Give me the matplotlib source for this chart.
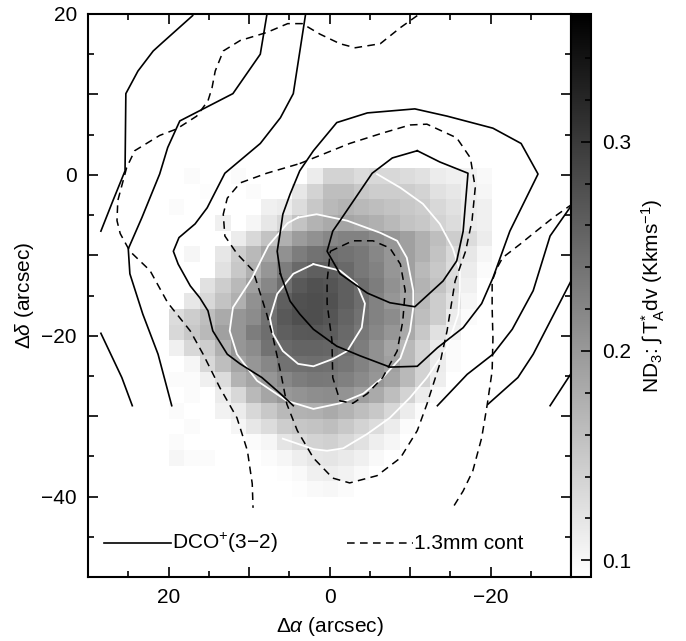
import numpy as np
import matplotlib
matplotlib.use('Agg')
import matplotlib.pyplot as plt
from matplotlib.ticker import MultipleLocator, FuncFormatter

plt.rcParams['font.family'] = ['Liberation Sans', 'DejaVu Sans']
plt.rcParams['mathtext.fontset'] = 'custom'
plt.rcParams['mathtext.rm'] = 'Liberation Sans'
plt.rcParams['mathtext.it'] = 'Liberation Sans:italic'
plt.rcParams['mathtext.sf'] = 'Liberation Sans'

n = np.nan

# ND3 integrated intensity (K km/s), rows from north (top) to south, columns east to west
nd3_map = np.array([
    [n, .097, n, n, .097, n, n, n, n, .113, .139, .139, .129, .134, .134, .129, .124, .113, .108, .106, .099],
    [n, n, .095, n, n, .097, n, n, .118, .139, .161, .161, .150, .145, .145, .145, .139, .124, .118, .108, .102],
    [.097, n, n, n, n, n, .108, .113, .129, .150, .166, .171, .166, .161, .155, .150, .145, .134, .124, .113, .108],
    [n, n, n, .108, n, .102, .118, .134, .155, .171, .182, .187, .182, .176, .166, .155, .150, .139, .129, .113, .108],
    [n, n, n, n, .113, .134, .155, .176, .197, .208, .219, .224, .224, .213, .203, .192, .176, .161, .145, .129, .113],
    [n, .102, n, .118, .145, .166, .187, .208, .229, .240, .245, .240, .234, .219, .203, .192, .176, .155, .134, .118, .102],
    [n, n, n, .124, .150, .176, .203, .229, .250, .261, .261, .250, .234, .224, .203, .192, .166, .150, .129, .113, .097],
    [n, n, .124, .145, .166, .192, .219, .245, .266, .274, .271, .261, .245, .229, .208, .192, .171, .155, .134, .108, n],
    [n, .118, .134, .155, .176, .208, .234, .261, .274, .279, .274, .261, .245, .224, .203, .187, .166, .145, .124, .102, n],
    [.129, .145, .161, .182, .203, .213, .240, .266, .277, .279, .271, .255, .240, .224, .213, .187, .161, .145, .113, .097, n],
    [.134, .150, .166, .192, .203, .229, .245, .261, .266, .268, .264, .250, .234, .219, .203, .182, .150, .124, .108, n, n],
    [.108, .134, .145, .176, .203, .213, .240, .250, .255, .255, .253, .245, .229, .208, .187, .166, .139, .113, .097, n, n],
    [n, .102, .134, .161, .187, .203, .219, .240, .243, .245, .243, .237, .224, .208, .192, .166, .139, .113, .097, n, n],
    [.097, .097, .108, .129, .171, .187, .203, .219, .229, .234, .232, .226, .215, .203, .187, .166, .139, .110, n, n, n],
    [n, .097, n, .113, .134, .166, .187, .201, .205, .211, .213, .205, .194, .182, .161, .139, .113, .097, n, n, n],
    [.097, n, n, .106, .113, .134, .150, .166, .173, .176, .182, .171, .161, .150, .134, .113, .097, n, n, n, n],
    [n, .097, n, n, .102, .118, .129, .145, .152, .155, .161, .150, .139, .129, .113, .097, n, n, n, n, n],
    [.097, n, n, n, n, .097, .102, .120, .129, .139, .142, .134, .124, .110, .102, n, n, n, n, n, n],
    [.102, .097, .097, n, n, n, .097, .102, .110, .118, .120, .115, .108, .099, n, n, n, n, n, n, n],
    [n, n, n, n, n, n, n, .095, .099, .108, .110, .106, .099, n, n, n, n, n, n, n, n],
    [n, n, n, n, n, n, n, n, .095, .099, .101, .097, n, n, n, n, n, n, n, n, n],
])
nd3_extent = (20.0, -20.0, -40.0, 0.9)
nd3_range = (0.092, 0.361)

# DCO+(3-2) contours, (ra offset, dec offset) in arcsec
dco_contours = [
    [(17.0, 19.8), (20.8, 16.4), (21.9, 15.4), (23.8, 12.9), (25.3, 10.1), (25.4, 0.5),
     (26.9, -3.2), (28.4, -7.0)],
    [(28.4, -19.7), (25.8, -25.2), (24.5, -28.7)],
    [(7.8, 19.8), (8.6, 15.0), (12.0, 10.1), (18.6, 6.7), (20.1, 3.4), (21.1, 0.1),
     (23.3, -5.3), (25.0, -9.2), (24.8, -12.3), (23.2, -17.3), (21.3, -22.3), (19.6, -28.7)],
    [(3.0, 19.8), (4.5, 10.1), (6.1, 7.1), (8.6, 3.9), (13.0, 0.2), (15.2, -4.1),
     (16.7, -6.1), (18.7, -7.8), (19.4, -9.5), (18.8, -11.1), (17.3, -13.8), (16.1, -15.3),
     (15.1, -16.9), (14.5, -19.4), (12.7, -22.3), (11.1, -23.5), (8.4, -25.2), (6.1, -27.2),
     (4.5, -28.7)],
    [(6.1, -12.3), (6.5, -9.5), (6.1, -7.0), (5.8, -4.9), (4.9, -2.4), (3.7, 0.5),
     (2.0, 3.0), (-0.9, 6.5), (-4.7, 7.7), (-10.6, 8.2), (-14.6, 7.3), (-20.3, 5.8),
     (-23.8, 3.9), (-25.9, 0.1), (-22.4, -7.0), (-20.3, -12.8), (-18.9, -16.0),
     (-16.6, -19.0), (-13.4, -21.5), (-10.9, -23.8), (-7.5, -23.9), (-3.8, -22.5),
     (-0.9, -21.3), (2.0, -19.2), (3.7, -17.3), (4.9, -15.7), (6.1, -12.3)],
    [(-10.9, 3.0), (-7.8, 2.1), (-5.3, 0.2), (-1.3, -5.7), (-0.4, -7.0), (0.3, -9.5),
     (-1.3, -12.3), (-4.7, -14.7), (-7.5, -15.9), (-10.6, -16.4), (-14.1, -13.2),
     (-15.8, -10.7), (-16.6, -7.0), (-17.2, 0.2), (-13.7, 1.6), (-10.9, 3.0)],
    [(-13.4, -28.7), (-17.1, -24.8), (-20.3, -22.3), (-22.7, -19.2), (-25.3, -14.4),
     (-27.4, -7.6), (-30.2, -3.6)],
    [(-30.2, -12.8), (-25.3, -22.3), (-23.4, -25.2), (-19.7, -28.5)],
    [(-30.2, -24.4), (-27.4, -28.7)],
]

# 1.3 mm continuum contours
cont_contours = [
    [(-10.9, 19.8), (-8.8, 18.3), (-6.3, 16.3), (-3.2, 15.8), (-1.3, 16.3), (1.2, 17.5),
     (3.4, 18.8), (5.2, 18.8), (7.8, 17.7), (11.1, 16.7), (13.2, 15.4), (14.2, 12.9),
     (14.6, 10.8), (15.1, 9.2), (16.5, 7.3), (19.0, 5.7), (21.1, 4.9), (24.2, 3.0),
     (25.2, 0.9), (26.3, -3.2), (26.4, -5.7), (26.0, -7.3), (24.8, -9.5), (22.3, -11.9),
     (20.1, -15.9), (17.3, -19.4), (15.7, -22.3), (13.6, -26.5), (11.5, -30.2),
     (10.2, -34.3), (9.6, -38.4), (9.5, -41.4)],
    [(3.7, 1.4), (-2.5, 3.9), (-6.6, 5.2), (-10.0, 6.2), (-12.1, 6.3), (-15.8, 4.6),
     (-17.5, 2.1), (-18.1, -1.6), (-17.7, -5.7), (-16.9, -9.5), (-15.6, -13.2),
     (-14.6, -19.4), (-13.7, -23.5), (-12.1, -28.5), (-10.9, -31.8), (-8.8, -35.2),
     (-5.9, -37.4), (-2.5, -38.3), (-0.4, -37.7), (2.0, -35.2), (4.0, -31.8), (5.3, -28.5),
     (6.1, -24.4), (7.0, -20.3), (7.8, -17.3), (9.5, -11.9), (11.5, -9.8), (13.0, -7.6),
     (13.2, -4.9), (12.7, -2.9), (11.1, -1.0), (7.8, 0.2), (3.7, 1.4)],
    [(-0.1, -9.5), (-2.9, -8.2), (-5.4, -8.2), (-7.5, -9.1), (-8.8, -11.1), (-9.4, -14.4),
     (-9.1, -18.2), (-8.4, -21.9), (-6.6, -25.2), (-4.7, -27.2), (-2.9, -28.4),
     (-1.3, -28.1), (-0.4, -25.2), (-0.3, -20.6), (0.3, -16.0), (0.3, -13.2), (-0.1, -9.5)],
    [(-30.2, -3.6), (-27.8, -5.3), (-25.3, -7.3), (-23.7, -8.6), (-21.5, -10.3),
     (-20.8, -11.6), (-20.2, -13.2), (-20.2, -16.5), (-20.3, -20.3), (-20.2, -24.4),
     (-19.6, -28.5), (-18.9, -32.7), (-17.8, -36.8), (-16.6, -39.3), (-15.3, -41.4)],
]

# ND3 contours (white)
nd3_contours = [
    [(2.0, -11.1), (-1.3, -11.9), (-3.4, -13.6), (-4.4, -16.0), (-4.0, -19.0), (-2.2, -21.9),
     (-0.4, -22.9), (2.0, -23.8), (3.9, -23.5), (5.8, -21.9), (7.0, -19.8), (7.4, -17.8),
     (6.5, -14.8), (4.5, -12.3), (2.0, -11.1)],
    [(3.9, -5.3), (1.6, -4.9), (-2.2, -5.7), (-6.3, -7.2), (-8.4, -8.2), (-9.6, -10.3),
     (-10.4, -14.4), (-10.4, -16.5), (-10.0, -19.4), (-8.8, -22.8), (-6.6, -25.2),
     (-4.2, -27.2), (-1.3, -28.4), (2.0, -29.1), (5.3, -28.1), (9.0, -25.6), (11.5, -22.3),
     (12.4, -19.4), (12.0, -16.5), (9.6, -12.8), (7.6, -8.8), (5.2, -6.0), (3.9, -5.3)],
    [(-5.9, 0.1), (-8.8, -1.6), (-11.6, -3.6), (-13.7, -6.1), (-15.3, -9.1), (-16.2, -11.9),
     (-16.2, -14.4), (-16.0, -17.3), (-14.6, -21.5), (-12.1, -25.2), (-10.0, -27.7),
     (-7.5, -30.2), (-4.7, -32.2), (-1.7, -34.0), (0.3, -34.3), (2.0, -34.1), (5.8, -32.8)],
]

x_range = (30, -30)
y_range = (-50, 20)
FS = 15


def fmt_every20(v, pos):
    if abs(v % 20) < 1e-6 or abs(v % 20 - 20) < 1e-6:
        return '%d' % v if v >= 0 else '\u2212%d' % (-v)
    return ''


fig = plt.figure(figsize=(6.86, 6.41), dpi=100)
ax = fig.add_axes([0.1283, 0.0998, 0.7041, 0.8784])
cax = fig.add_axes([0.8324, 0.0998, 0.0292, 0.8784])

cmap = plt.get_cmap('gray_r').copy()
cmap.set_bad('white')
im = ax.imshow(nd3_map, cmap=cmap, vmin=nd3_range[0], vmax=nd3_range[1],
               extent=nd3_extent, origin='upper', interpolation='nearest', aspect='auto')

for line in nd3_contours:
    xs, ys = zip(*line)
    ax.plot(xs, ys, color='white', lw=1.3)
for line in dco_contours:
    xs, ys = zip(*line)
    ax.plot(xs, ys, color='black', lw=1.2)
for line in cont_contours:
    xs, ys = zip(*line)
    ax.plot(xs, ys, color='black', lw=1.1, linestyle=(0, (5, 3.5)))

ax.set_xlim(*x_range)
ax.set_ylim(*y_range)
ax.set_aspect('auto')

for a in (ax.xaxis, ax.yaxis):
    a.set_major_locator(MultipleLocator(10))
    a.set_minor_locator(MultipleLocator(5))
    a.set_major_formatter(FuncFormatter(fmt_every20))
ax.tick_params(which='both', direction='in', top=True, right=True, labelsize=FS, width=1.2)
ax.tick_params(which='major', length=7, pad=8)
ax.tick_params(which='minor', length=4)
for s in ax.spines.values():
    s.set_linewidth(1.5)

ax.set_xlabel(r'$\Delta\alpha$ (arcsec)', fontsize=FS, labelpad=6)
ax.set_ylabel(r'$\Delta\delta$ (arcsec)', fontsize=FS, labelpad=4)

# legend drawn inside the frame
ax.plot([0.033, 0.171], [0.060, 0.060], color='black', lw=1.2, transform=ax.transAxes)
ax.text(0.173, 0.060, r'DCO$^{+}$(3$-$2)', transform=ax.transAxes, va='center',
        ha='left', fontsize=FS)
ax.plot([0.536, 0.672], [0.060, 0.060], color='black', lw=1.1, linestyle=(0, (5, 3.5)),
        transform=ax.transAxes)
ax.text(0.674, 0.060, '1.3mm cont', transform=ax.transAxes, va='center', ha='left',
        fontsize=FS)

cb = fig.colorbar(im, cax=cax)
cb.set_ticks([0.1, 0.2, 0.3])
cb.ax.yaxis.set_minor_locator(MultipleLocator(0.02))
cb.ax.tick_params(which='both', direction='in', right=True, labelsize=FS, width=1.2)
cb.ax.tick_params(which='major', length=7, pad=8)
cb.ax.tick_params(which='minor', length=4)
cb.outline.set_linewidth(1.5)
cb.set_label(r'ND$_3$: $\int\,\mathrm{T_A^{*}dv}$ (Kkms$^{-1}$)', fontsize=FS, labelpad=6)

fig.savefig('out.png', dpi=100)
